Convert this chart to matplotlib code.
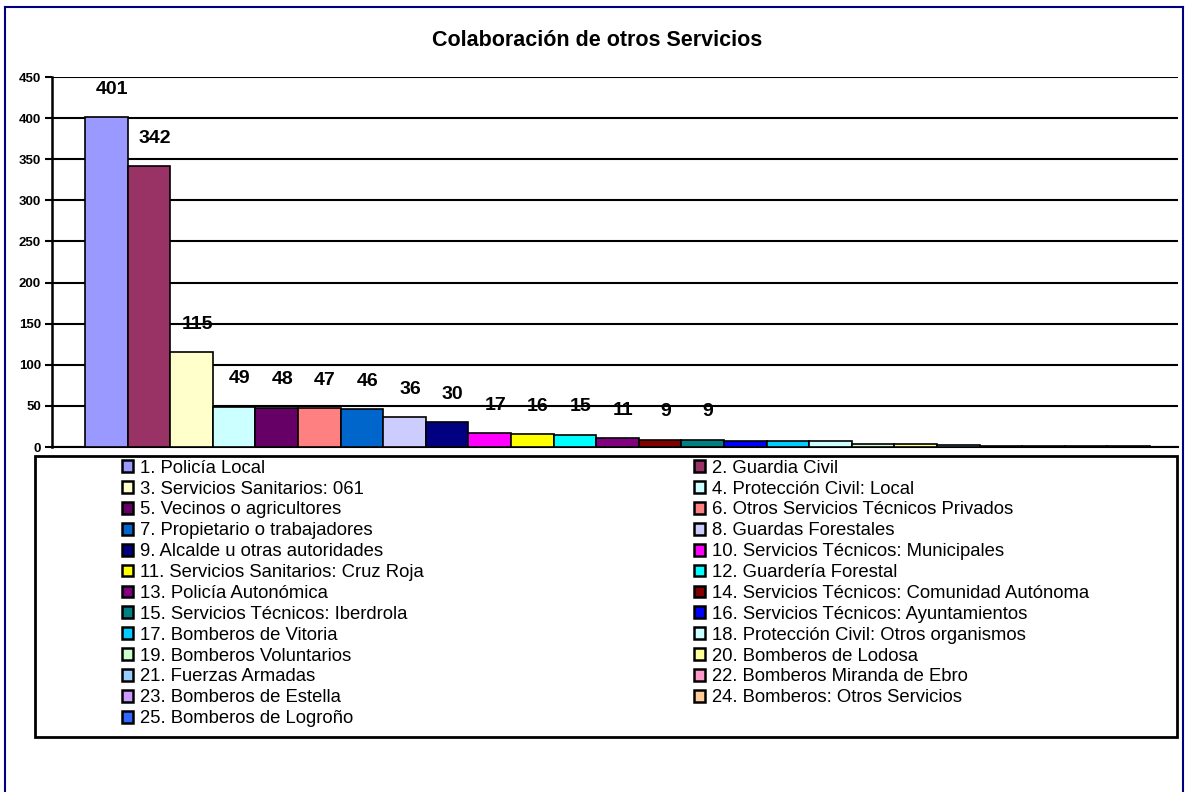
import matplotlib.pyplot as plt
from matplotlib.patches import Patch, Rectangle
from matplotlib.lines import Line2D

plt.rcParams['font.family'] = ['Liberation Sans', 'DejaVu Sans']

servicios = [
    "1. Policía Local", "2. Guardia Civil", "3. Servicios Sanitarios: 061",
    "4. Protección Civil: Local", "5. Vecinos o agricultores",
    "6. Otros Servicios Técnicos Privados", "7. Propietario o trabajadores",
    "8. Guardas Forestales", "9. Alcalde u otras autoridades",
    "10. Servicios Técnicos: Municipales", "11. Servicios Sanitarios: Cruz Roja",
    "12. Guardería Forestal", "13. Policía Autonómica",
    "14. Servicios Técnicos: Comunidad Autónoma", "15. Servicios Técnicos: Iberdrola",
    "16. Servicios Técnicos: Ayuntamientos", "17. Bomberos de Vitoria",
    "18. Protección Civil: Otros organismos", "19. Bomberos Voluntarios",
    "20. Bomberos de Lodosa", "21. Fuerzas Armadas", "22. Bomberos Miranda de Ebro",
    "23. Bomberos de Estella", "24. Bomberos: Otros Servicios",
    "25. Bomberos de Logroño",
]
colaboraciones = [401, 342, 115, 49, 48, 47, 46, 36, 30, 17, 16, 15, 11, 9, 9,
                  7, 7, 7, 4, 4, 3, 1, 1, 1, 1]
# only the larger values carry a label
etiquetas = ["401", "342", "115", "49", "48", "47", "46", "36", "30",
             "17", "16", "15", "11", "9", "9"]
colores = ["#9999FF", "#993366", "#FFFFCC", "#CCFFFF", "#660066", "#FF8080",
           "#0066CC", "#CCCCFF", "#000080", "#FF00FF", "#FFFF00", "#00FFFF",
           "#800080", "#800000", "#008080", "#0000FF", "#00CCFF", "#CCFFFF",
           "#CCFFCC", "#FFFF99", "#99CCFF", "#FF99CC", "#CC99FF", "#FFCC99",
           "#3366FF"]
yticks = [0, 50, 100, 150, 200, 250, 300, 350, 400, 450]

W, H = 1188, 792
fig = plt.figure(figsize=(W / 100, H / 100), dpi=100)
ax = fig.add_axes([52 / W, 1 - 447 / H, (1178 - 52) / W, (447 - 77) / H])

x = list(range(len(colaboraciones)))
bars = ax.bar(x, colaboraciones, width=1.0, color=colores,
              edgecolor="black", linewidth=1.2, zorder=3)

for i, txt in enumerate(etiquetas):
    ax.annotate(txt, (x[i], colaboraciones[i]), xytext=(4, 20),
                textcoords="offset points", ha="center", va="center",
                fontsize=14, fontweight="bold", zorder=4)

ax.set_xlim(-1.275, 25.16)
ax.set_ylim(0, 450)
ax.set_yticks(yticks)
ax.set_yticklabels([str(t) for t in yticks], fontsize=9.5, fontweight="bold")
ax.set_xticks([])
ax.grid(axis="y", color="black", linewidth=1.5, zorder=0)
ax.tick_params(axis="y", length=5, width=1.5, pad=3)
for s in ["top", "right"]:
    ax.spines[s].set_visible(False)
ax.spines["left"].set_linewidth(1.8)
ax.spines["bottom"].set_linewidth(1.5)

fig.text(597 / W, 1 - 40 / H, "Colaboración de otros Servicios",
         ha="center", va="center", fontsize=15.5, fontweight="bold")

# legend box with two single-column legends inside
fig.patches.append(Rectangle((35 / W, 1 - 737 / H), (1177 - 35) / W, (737 - 456) / H,
                             transform=fig.transFigure, fill=False,
                             edgecolor="black", linewidth=2))

handles = [Patch(facecolor=c, edgecolor="black", linewidth=1.8) for c in colores]
for col, x0 in ((0, 118), (1, 690)):
    idx = list(range(col, len(servicios), 2))
    fig.legend([handles[i] for i in idx], [servicios[i] for i in idx],
               loc="upper left", bbox_to_anchor=(x0 / W, 1 - 456 / H),
               frameon=False, fontsize=13.3, handlelength=0.6, handleheight=0.6,
               handletextpad=0.4, labelspacing=0.21, borderpad=0.2,
               borderaxespad=0)

# page frame (left, top, right)
navy = "#000080"
fig.add_artist(Line2D([5 / W, 5 / W], [0, 1 - 7 / H], color=navy, linewidth=1.5,
                      transform=fig.transFigure))
fig.add_artist(Line2D([5 / W, 1183 / W], [1 - 7 / H, 1 - 7 / H], color=navy,
                      linewidth=1.5, transform=fig.transFigure))
fig.add_artist(Line2D([1183 / W, 1183 / W], [0, 1 - 7 / H], color=navy,
                      linewidth=1.5, transform=fig.transFigure))

fig.savefig("out.png", dpi=100)
